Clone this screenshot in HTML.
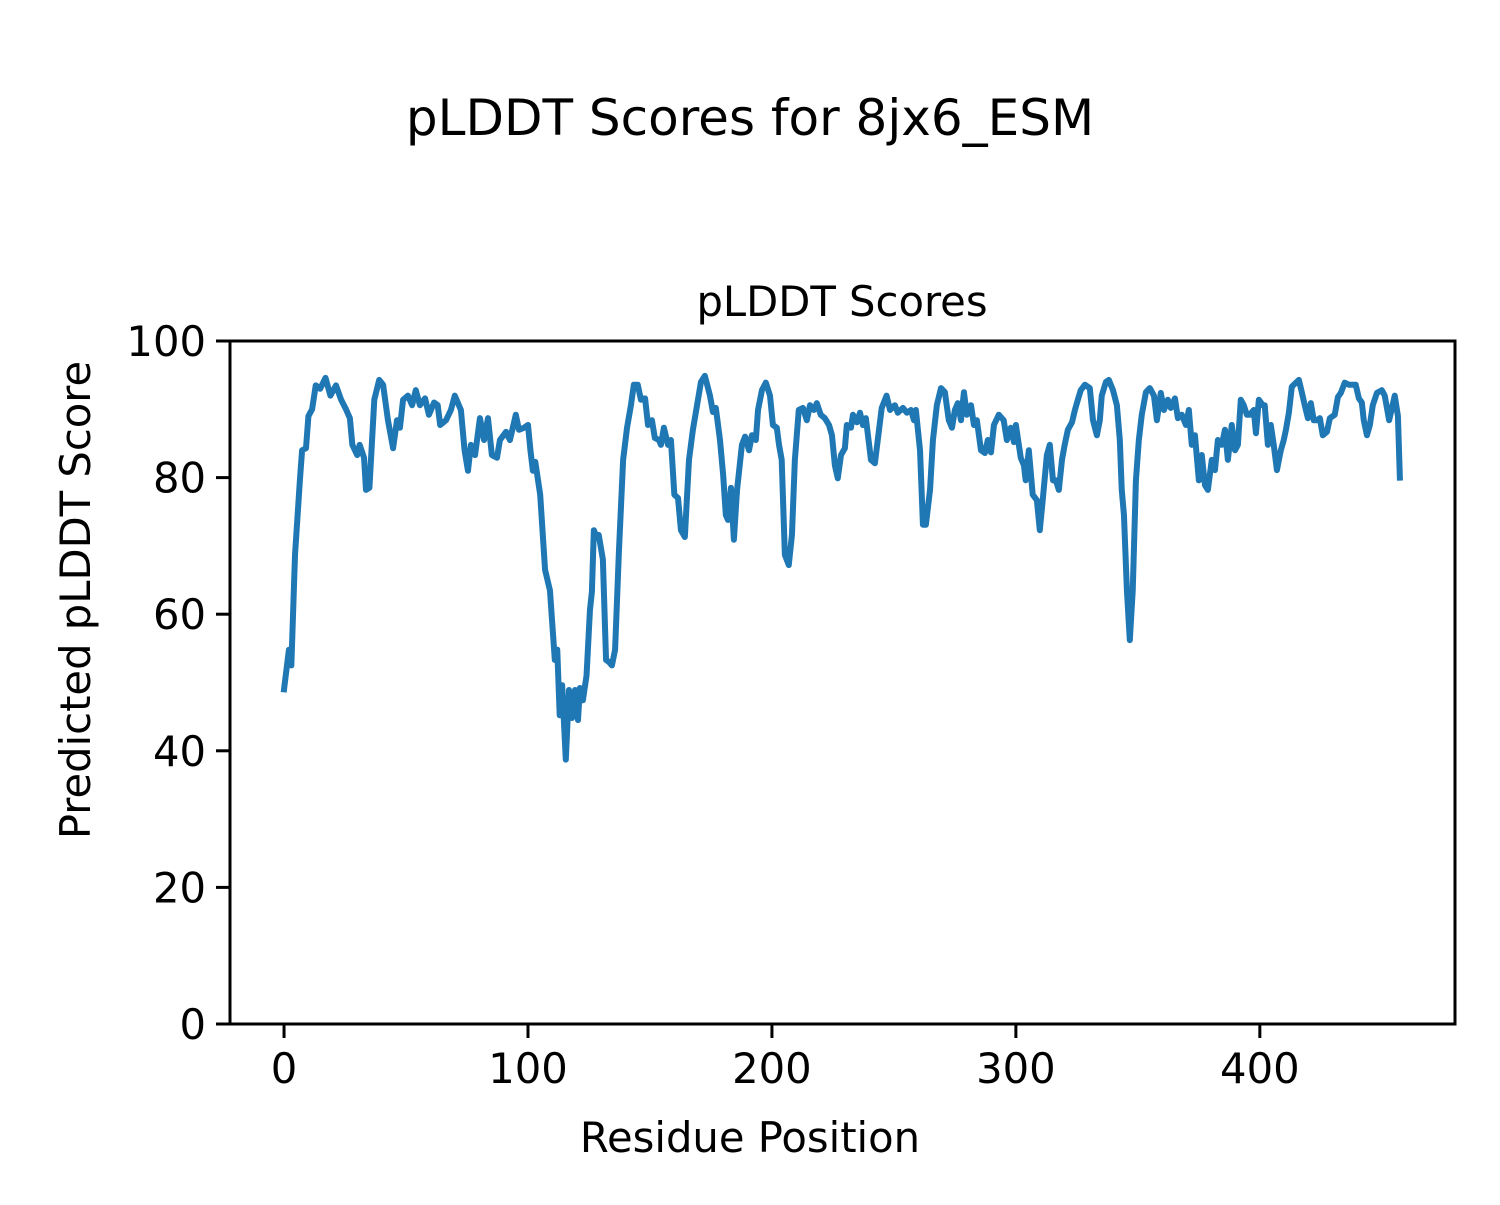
<!DOCTYPE html>
<html><head><meta charset="utf-8"><style>
html,body{margin:0;padding:0;background:#fff;}
svg text{font-family:"DejaVu Sans","Liberation Sans",sans-serif;fill:#000;}
</style></head><body>
<svg id="chart" width="1500" height="1200" xmlns="http://www.w3.org/2000/svg">
<rect width="1500" height="1200" fill="#fff"/>
<text x="750" y="135" font-size="50" text-anchor="middle">pLDDT Scores for 8jx6_ESM</text>
<text x="842" y="316" font-size="41.7" text-anchor="middle">pLDDT Scores</text>
<g id="plot"></g>
<text x="750" y="1152" font-size="41.7" text-anchor="middle">Residue Position</text>
<text x="0" y="0" font-size="41.7" text-anchor="middle" transform="translate(90,600) rotate(-90)">Predicted pLDDT Score</text>
</svg>
<script>
const residues=[0,2,3,4.5,6.5,7.4,9,10,11.5,13,14.8,17,19,21.3,23.4,25.4,27,28,30,31,32.8,33.6,35,37,39,40.6,42.6,44.7,46.3,47.5,48.8,50.8,52.5,54,55.7,57.8,59.4,61.5,63,64,66.4,68.4,70,72.5,74,75.4,76.6,78.3,80.3,82,83.6,85.2,87.3,88.5,91,92.6,95,96.3,98.4,100,101,102,103,105,107,109,111,112,113,114,115.5,116.8,118,119.3,120.5,121.3,122.5,124,125.4,126.2,127,128.3,129,130.7,132,133.2,134.4,135.7,137.3,139,140.6,142.2,143.4,145,146.3,148,149.2,150.8,152,153.7,154.5,155.7,157.4,158.6,160,161.5,162.7,164.3,166,167.6,169.3,170.9,172.5,174.6,175.8,177,178.7,180,181.1,182,183.2,184.4,185.7,187.7,189,190.6,191.8,193.4,194.3,195.9,197.5,199.2,200.4,202,202.9,204,205.3,206.9,208.2,209.4,211,212.7,214.3,215.6,217.2,218.4,220,221.7,223.4,224.6,225.8,227,228.3,229.9,230.7,232.4,233.2,234.8,236.1,237.3,238.5,240.6,242.2,243.9,245,247,248.4,250.4,251.6,253.7,255.3,257,258.2,259,260.7,261.9,263.1,264.8,266,267.6,269.3,270.9,272.5,273.8,275,276.2,277.5,278.7,279.9,281.6,282.8,284,285.7,287.3,288.5,289.8,291,293,295,296.3,297.9,299.2,300,302,303.3,304,305.3,306.9,308.6,309.8,311,312.7,313.9,315.2,316.4,317.6,318.9,320,321.3,323,324.2,325.4,326.6,328.3,330.3,331.6,333.2,334.4,335.2,336.9,338.1,339.8,341.4,342.6,343.4,344.3,345.5,346.7,347.9,349.2,350.4,351.6,353.3,354.9,356.6,357.8,359.4,360.7,362.3,363.5,365.2,366.4,368,369.7,370.9,372.1,373.4,375,376.2,377.5,378.7,380.3,381.6,382.8,384.4,385.7,386.9,388.5,389.8,391,392.2,393.4,394.7,395.9,397.5,398.4,399.6,401.2,402,403.3,404.5,405.7,407,408.6,409.8,410.7,411.9,413.1,414.8,416,417.2,418.4,419.7,420.9,422.1,423.4,424.6,425.8,427.5,428.7,430.7,432,433.2,434.8,436.5,437.7,439.3,440.6,441.8,442.6,443.9,445.1,446.3,448,450,451.2,453,455.3,456.6,457.4];
const scores=[49,54.8,52.5,68.7,79.6,84,84.3,89,90,93.5,93,94.6,92,93.5,91.4,90,88.7,84.8,83.3,84.8,82.9,78.2,78.5,91.4,94.3,93.6,88.4,84.3,88.4,87.3,91.4,92,90.6,92.8,90.6,91.6,89.2,91,90.6,87.7,88.4,89.9,92,89.9,84,81,84.8,83.3,88.7,85.5,88.7,83.3,82.9,85.5,86.7,85.5,89.2,87,87.3,87.7,84,81,82.3,77.5,66.5,63.5,53.3,54.8,45.2,49.6,38.7,48.9,44.8,48.9,44.5,49.2,47.4,51,60.6,63.3,72.3,71.2,71.6,68,53.3,53,52.5,54.8,69.4,82.6,87.3,90.6,93.6,93.6,91.4,91.6,87.7,88.4,85.8,85.5,84.8,87.3,84.8,85.5,77.5,77,72.3,71.3,82.6,87,90.6,94,94.9,92,89.6,90.2,85.5,80.4,74.5,73.8,78.5,70.9,78.2,84.8,86,84,86.2,85.5,89.9,92.8,93.9,92,87.7,87.3,84.8,82.6,68.7,67.2,71.6,82.6,89.9,90.2,88.4,90.6,89.9,90.9,89.2,88.7,87.7,86.2,81.8,79.9,83.3,84.3,87.7,87.3,89.2,88.1,89.5,87.7,88.7,82.6,82.1,87,90.2,92,89.9,90.6,89.5,90.2,89.5,89.9,88.4,89.9,84,73.1,73.1,78.2,85.5,90.6,93.1,92.5,88.4,87.3,89.9,90.9,88.4,92.5,89.2,90.6,87.7,88.4,84,83.6,85.5,83.7,87.7,89.2,88.4,85.5,87.3,85.2,87.7,82.9,81.8,79.6,84,77.5,76.7,72.3,76.7,83.3,84.8,79.6,79.6,78.2,82.6,84.8,87,88.1,89.9,91.4,92.8,93.6,93.1,88.4,86.2,88.4,92,94,94.3,92.8,90.6,85.5,78.2,74.5,63.5,56.2,63.5,79.6,85.5,89.2,92.5,93.1,92,88.4,92.4,89.9,91.4,90.2,91.6,88.7,89.2,87.7,89.9,84.8,86.2,79.6,83.3,78.9,78.2,82.6,81.1,85.5,84.8,87,82.6,87.7,84,84.8,91.4,90.6,89.2,89.2,89.9,86.5,91.4,90.6,90.6,84.8,87.7,84.8,81.1,84,85.5,87,89.5,93.3,93.9,94.3,92.5,90.6,88.7,90.9,88.4,88.4,88.7,86.2,86.7,88.7,89.2,91.8,92.4,93.9,93.6,93.6,93.6,91.6,91,88.4,86.2,87.7,90.6,92.4,92.8,92,88.4,92,89,80];
const xTicks=[0,100,200,300,400];
const yTicks=[0,20,40,60,80,100];

const L=230,R=1455,T=341,B=1024;
const xMin=-22.15,xMax=480;
const sx=v=>L+(v-xMin)/(xMax-xMin)*(R-L);
const sy=v=>B-(v/100)*(B-T);
const NS="http://www.w3.org/2000/svg";
const g=document.getElementById('plot');
function mk(tag,attrs){const e=document.createElementNS(NS,tag);for(const k in attrs)e.setAttribute(k,attrs[k]);g.appendChild(e);return e;}

let d='';
residues.forEach((r,i)=>{d+=(i?'L':'M')+sx(r).toFixed(2)+','+sy(scores[i]).toFixed(2);});
const line=mk('path',{d:d,fill:'none',stroke:'#1f77b4','stroke-width':6,'stroke-linejoin':'round','stroke-linecap':'square'});



const frame=mk('rect',{x:L,y:T,width:R-L,height:B-T,fill:'none',stroke:'#000','stroke-width':3});



xTicks.forEach(t=>{
  const x=sx(t);
  const tk=mk('line',{x1:x,x2:x,y1:B,y2:B+14,stroke:'#000','stroke-width':3});
  
  
  const tx=mk('text',{x:x,y:1083,'font-size':41.7,'text-anchor':'middle'});
  tx.textContent=t;
  
  
});
yTicks.forEach(t=>{
  const y=sy(t);
  const tk=mk('line',{x1:L-14,x2:L,y1:y,y2:y,stroke:'#000','stroke-width':3});
  
  
  const tx=mk('text',{x:206,y:y+15,'font-size':41.7,'text-anchor':'end'});
  tx.textContent=t;
  
  
});
</script>
</body></html>
